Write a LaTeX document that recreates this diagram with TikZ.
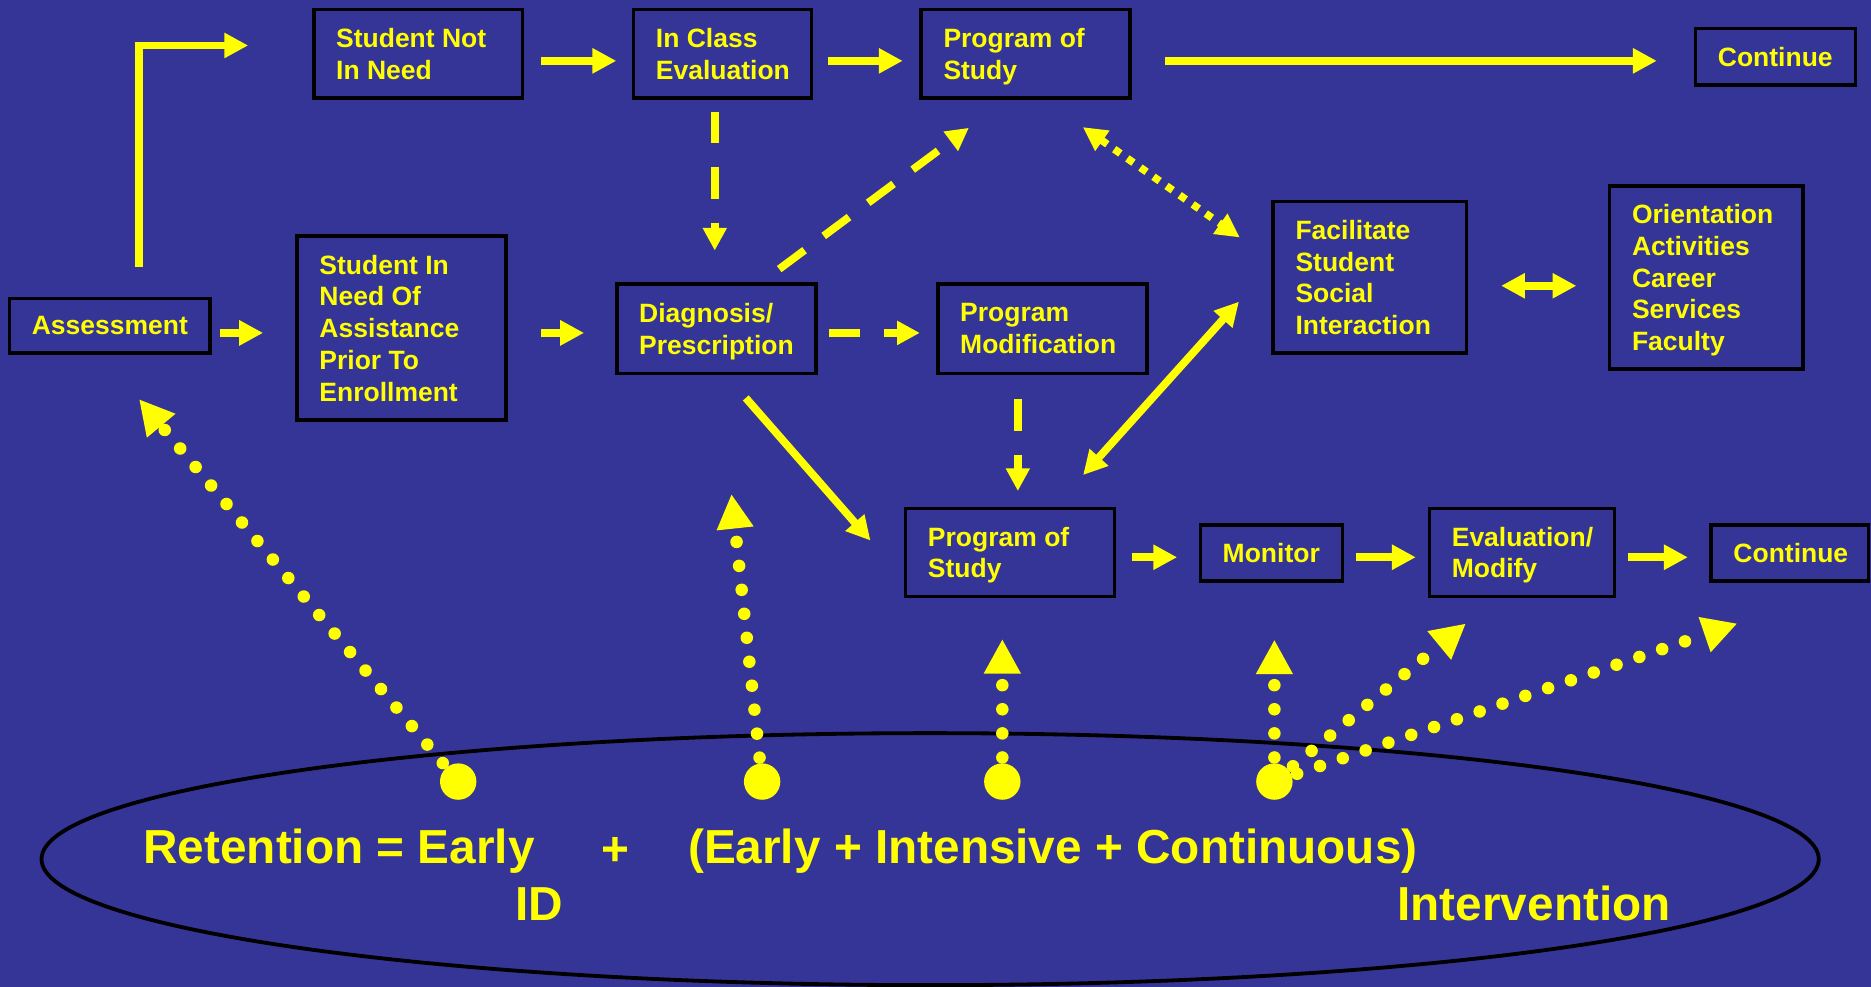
\documentclass[tikz,border=0pt]{standalone}
\usepackage{fontspec}
\setmainfont{Liberation Sans}
\usetikzlibrary{arrows.meta}
\definecolor{bg}{RGB}{53,53,152}
\definecolor{yel}{RGB}{255,255,0}
\tikzset{
 box/.style={draw=black, line width=3pt, fill=bg, rectangle, inner sep=0pt},
 btxt/.style={text=yel, font=\fontsize{22.2}{26.6}\selectfont\bfseries, align=left, inner sep=0pt, anchor=west},
 sarr/.style={yel, line width=6.5pt, -{Triangle[length=20pt,width=20pt]}},
 sdarr/.style={yel, line width=6.5pt, {Triangle[length=20pt,width=20pt]}-{Triangle[length=20pt,width=20pt]}},
 darr/.style={yel, line width=6.5pt, dash pattern=on 26.5pt off 20pt, -{Triangle[length=19pt,width=19pt]}},
 qdarr/.style={yel, line width=6.3pt, dash pattern=on 6.3pt off 7.1pt, {Triangle[length=20pt,width=19.5pt]}-{Triangle[length=20pt,width=19.5pt]}},
 rdarr/.style={yel, line width=10.5pt, line cap=round, dash pattern=on 0pt off 20.2pt, -{Triangle[length=29pt,width=29pt]}},
 dotc/.style={circle, fill=yel, minimum size=30.5pt, inner sep=0pt},
 bigtxt/.style={text=yel, font=\fontsize{40}{48}\selectfont\bfseries, inner sep=0pt},
}
\begin{document}
\begin{tikzpicture}[x=1pt,y=-1pt]
\useasboundingbox (0,0) rectangle (1568,827);
\fill[bg] (0,0) rectangle (1568,827);

% boxes
\node[box, minimum width=175pt, minimum height=74pt] (sn) at (350.5,45) {};
\node[btxt] (snt) at ([xshift=20pt]sn.west) {Student Not\\In Need};
\node[box, minimum width=149pt, minimum height=74pt] (ice) at (605.5,45) {};
\node[btxt] (icet) at ([xshift=20pt]ice.west) {In Class\\Evaluation};
\node[box, minimum width=175pt, minimum height=74pt] (pos1) at (859.5,45) {};
\node[btxt] (pos1t) at ([xshift=20pt]pos1.west) {Program of\\\smash{Study}};
\node[box, minimum width=134pt, minimum height=47pt] (cont1) at (1488,47.5) {};
\node[btxt] (cont1t) at ([xshift=20pt]cont1.west) {Continue};
\node[box, minimum width=168pt, minimum height=46pt] (assess) at (92,273) {};
\node[btxt] (assesst) at ([xshift=20pt]assess.west) {Assessment};
\node[box, minimum width=175pt, minimum height=154pt] (sin) at (336.5,275) {};
\node[btxt] (sint) at ([xshift=20pt]sin.west) {Student In\\Need Of\\Assistance\\Prior To\\Enrollment};
\node[box, minimum width=167pt, minimum height=75pt] (diag) at (600.5,275.5) {};
\node[btxt] (diagt) at ([xshift=20pt]diag.west) {Diagnosis/\\\smash{Prescription}};
\node[box, minimum width=175pt, minimum height=75pt] (pm) at (873.5,275.5) {};
\node[btxt] (pmt) at ([xshift=20pt]pm.west) {Program\\Modification};
\node[box, minimum width=162pt, minimum height=127pt] (fac) at (1148,232.5) {};
\node[btxt] (fact) at ([xshift=20pt]fac.west) {Facilitate\\Student\\Social\\Interaction};
\node[box, minimum width=162pt, minimum height=153pt] (ori) at (1430,232.5) {};
\node[btxt] (orit) at ([xshift=20pt]ori.west) {Orientation\\Activities\\Career\\Services\\\smash{Faculty}};
\node[box, minimum width=175pt, minimum height=74pt] (pos2) at (846.5,463) {};
\node[btxt] (pos2t) at ([xshift=20pt]pos2.west) {Program of\\\smash{Study}};
\node[box, minimum width=119pt, minimum height=47pt] (mon) at (1065.5,463.5) {};
\node[btxt] (mont) at ([xshift=20pt]mon.west) {Monitor};
\node[box, minimum width=155pt, minimum height=74pt] (evm) at (1275.5,463) {};
\node[btxt] (evmt) at ([xshift=20pt]evm.west) {Evaluation/\\\smash{Modify}};
\node[box, minimum width=132pt, minimum height=47pt] (cont2) at (1500,463.5) {};
\node[btxt] (cont2t) at ([xshift=20pt]cont2.west) {Continue};

% upper connectors
\draw[sarr, line join=miter] ([shift={(24.2,-25)}]assess.north) |- ([shift={(-53.5,-6.9)}]sn.west);
\draw[sarr] ([shift={(14,6)}]sn.east) -- ([shift={(-13,6)}]ice.west);
\draw[sarr] ([shift={(12,6)}]ice.east) -- ([shift={(-14,6)}]pos1.west);
\draw[sarr] ([shift={(28,6)}]pos1.east) -- ([shift={(-31,3.5)}]cont1.west);
\draw[sarr] ([shift={(7,6)}]assess.east) -- ([shift={(-27,4)}]sin.west);
\draw[sarr] ([shift={(28,4)}]sin.east) -- ([shift={(-26,3.5)}]diag.west);
\draw[darr] ([shift={(-6.5,10)}]ice.south) -- ([shift={(-1.5,-26.5)}]diag.north);
\draw[darr] ([shift={(52.5,-11)}]diag.north) -- ([shift={(-47.5,23.6)}]pos1.south);
\draw[darr] ([shift={(9,3.5)}]diag.east) -- ([shift={(-13.6,3.5)}]pm.west);
\draw[qdarr] ([shift={(48,23)}]pos1.south) -- ([shift={(-26.5,-33.5)}]fac.west);
\draw[sarr] ([shift={(24.5,19)}]diag.south) -- ([shift={(-28,-10)}]pos2.west);
\draw[darr] ([shift={(-20.5,20)}]pm.south) -- ([shift={(6.5,-13)}]pos2.north);
\draw[sdarr] ([shift={(61.2,-26.4)}]pos2.north) -- ([shift={(-27.2,20.3)}]fac.west);
\draw[sdarr] ([shift={(27.5,7)}]fac.east) -- ([shift={(-26.4,7)}]ori.west);
\draw[sarr] ([shift={(13,4)}]pos2.east) -- ([shift={(-18,3.5)}]mon.west);
\draw[sarr] ([shift={(10,3.5)}]mon.east) -- ([shift={(-10,4)}]evm.west);
\draw[sarr] ([shift={(10,4)}]evm.east) -- ([shift={(-18,3.5)}]cont2.west);

% ellipse
\draw[black, line width=3.2pt] (779.5,720) ellipse [x radius=744.7, y radius=105.6];

% circles and dotted arrows
\node[dotc] (c1) at (384,655) {};
\node[dotc] (c2) at (638.7,655) {};
\node[dotc] (c3) at (840,655) {};
\node[dotc] (c4) at (1068,655) {};
\coordinate (t2) at (613,414);
\draw[rdarr] (c1.center) -- ([shift={(24.5,37)}]assess.south);
\draw[rdarr] (c2.center) -- (t2);
\draw[rdarr] (c3.center) -- ([shift={(-6.5,34)}]pos2.south);
\draw[rdarr] (c4.center) -- ([shift={(2.5,47.5)}]mon.south);
\draw[rdarr] (c4.center) -- ([shift={(-47,21)}]evm.south);
\draw[rdarr] (c4.center) -- ([shift={(-44,34)}]cont2.south);

% formula
\node[bigtxt, anchor=base west] (ret) at (120,723.5) {Retention = Early};
\node[bigtxt, anchor=base west] (id) at (432,771) {ID};
\node[bigtxt, anchor=base] (plus) at (516,725) {+};
\node[bigtxt, anchor=base west] (eic) at (576.5,723.5) {(Early + Intensive + Continuous)};
\node[bigtxt, anchor=base west] (intv) at (1171,771) {Intervention};
\end{tikzpicture}
\end{document}
